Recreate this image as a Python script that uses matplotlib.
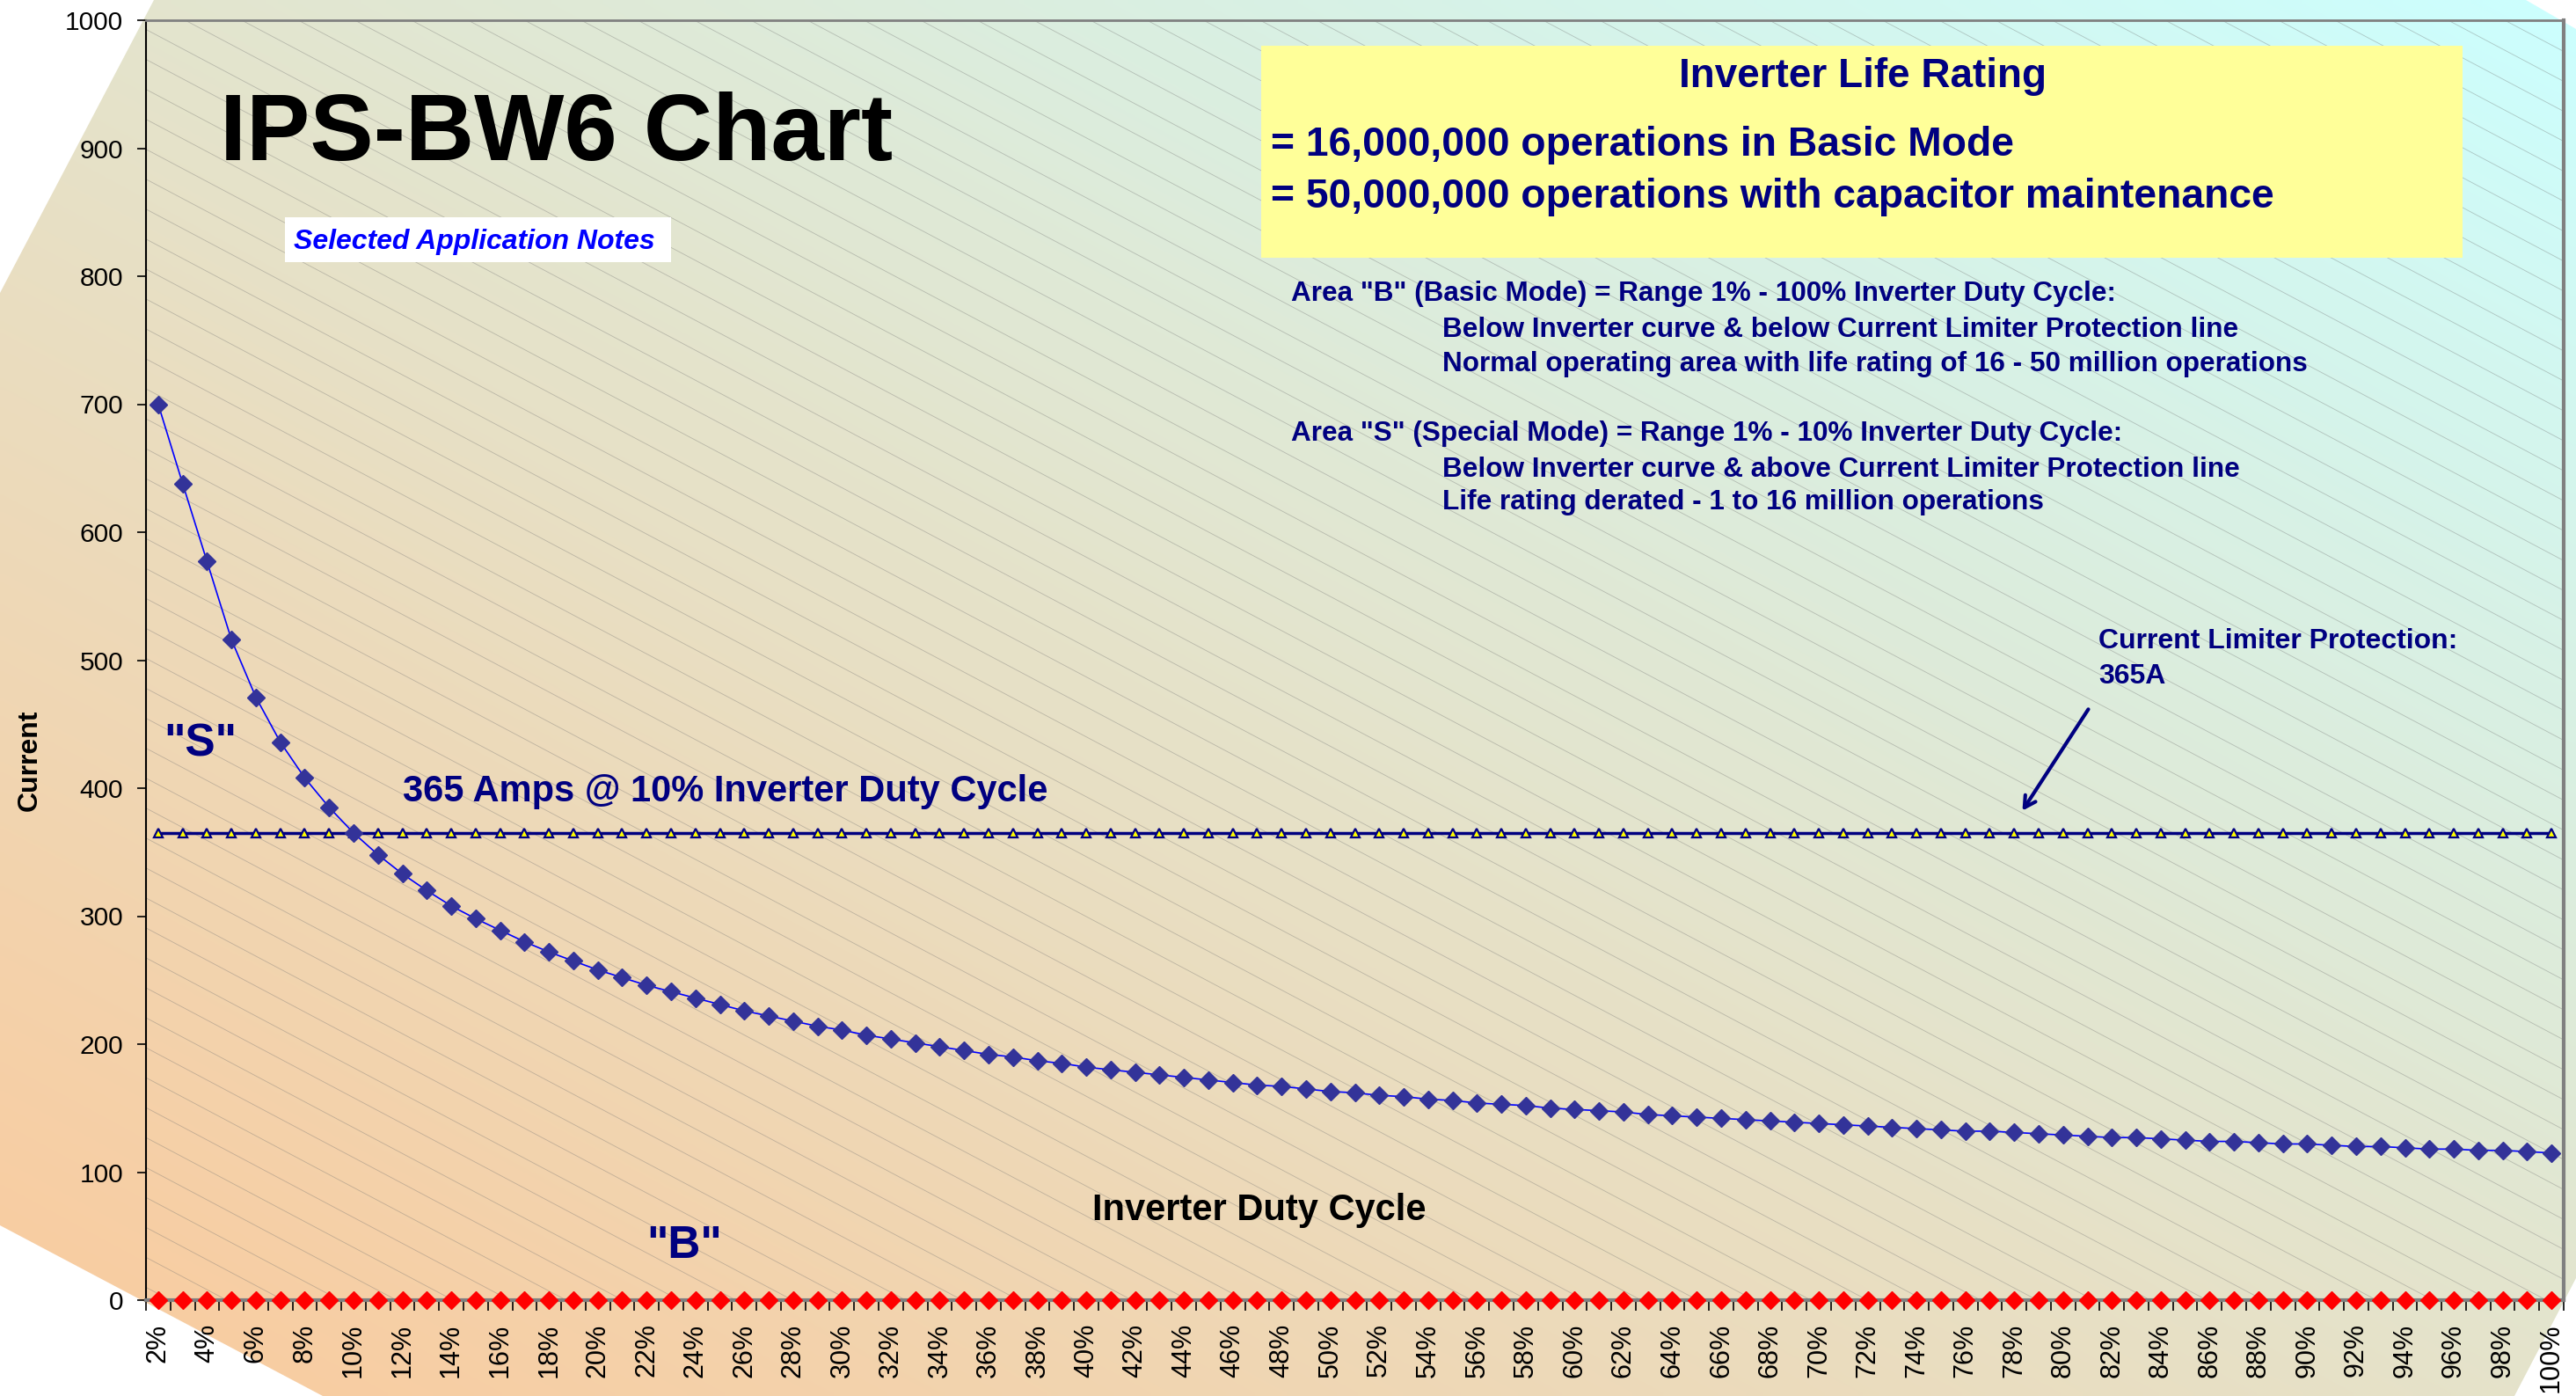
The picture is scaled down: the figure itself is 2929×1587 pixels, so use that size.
import numpy as np
import matplotlib
matplotlib.use('Agg')
import matplotlib.pyplot as plt
from matplotlib.patches import Polygon, Rectangle

plt.rcParams['font.family'] = ['Liberation Sans', 'DejaVu Sans']

# duty cycle categories (%) and the three series
duty_pct = list(range(2, 101))
inverter_amps = [700, 638, 577, 516, 471, 436, 408, 385, 365, 348,
                 333, 320, 308, 298, 289, 280, 272, 265, 258, 252,
                 246, 241, 236, 231, 226, 222, 218, 214, 211, 207,
                 204, 201, 198, 195, 192, 190, 187, 185, 182, 180,
                 178, 176, 174, 172, 170, 168, 167, 165, 163, 162,
                 160, 159, 157, 156, 154, 153, 152, 150, 149, 148,
                 147, 145, 144, 143, 142, 141, 140, 139, 138, 137,
                 136, 135, 134, 133, 132, 132, 131, 130, 129, 128,
                 127, 127, 126, 125, 124, 124, 123, 122, 122, 121,
                 120, 120, 119, 118, 118, 117, 117, 116, 115]
limiter_amps = [365] * len(duty_pct)
basic_zero = [0] * len(duty_pct)
y_ticks = list(range(0, 1001, 100))

W, H = 2929, 1587
NAVY = '#000080'


def fx(x):
    return x / W


def fy(y):
    return 1 - y / H


fig = plt.figure(figsize=(W / 100, H / 100), dpi=100)
fig.patch.set_facecolor('white')

# chart area background: diagonal orange -> cyan gradient in a tilted frame
bg = fig.add_axes([0, 0, 1, 1], zorder=-2)
bg.set_xlim(0, W)
bg.set_ylim(H, 0)
bg.axis('off')
gx, gy = np.meshgrid(np.linspace(0, 1, 400), np.linspace(0, 1, 220))
t = np.clip((gx + (1 - gy)) / 2, 0, 1) ** 1.1
c0 = np.array([250, 203, 158]) / 255
c1 = np.array([204, 255, 255]) / 255
img = c0 + (c1 - c0) * t[..., None]
im = bg.imshow(img, extent=[0, W, H, 0], aspect='auto', interpolation='bilinear')
frame = Polygon([(175, 0), (2872, 0), (2929, 33), (2929, 1453), (2859, 1587),
                 (367, 1587), (0, 1393), (0, 333)], closed=True,
                facecolor='none', edgecolor='none', transform=bg.transData)
bg.add_patch(frame)
im.set_clip_path(frame)

# plot area
left, right, top, bottom = 166, 2915, 23, 1478
ax = fig.add_axes([fx(left), fy(bottom), (right - left) / W, (bottom - top) / H])
ax.set_facecolor('none')

# diagonal pattern lines of the plot area
for b in np.arange(0.01, 2.0, 0.0234):
    ax.plot([0, 1], [b, b - 1.0], transform=ax.transAxes, color='#707070',
            lw=0.6, alpha=0.38, zorder=0.5)

x = np.arange(len(duty_pct))
ax.plot(x, limiter_amps, color=NAVY, lw=2.5, marker='^', ms=7,
        mfc='#ffff00', mec=NAVY, mew=1.6, zorder=3)
ax.plot(x, inverter_amps, color='#0000ff', lw=1.2, marker='D', ms=10.5,
        mfc='#333399', mec='#333399', zorder=4)
ax.plot(x, basic_zero, ls='none', marker='D', ms=10.5, color='#ff0000',
        clip_on=False, zorder=5)

ax.set_xlim(-0.5, len(duty_pct) - 0.5)
ax.set_ylim(0, 1000)
ax.set_yticks(y_ticks)
ax.tick_params(axis='y', direction='out', length=7.5, width=1.2, pad=11,
               labelsize=21.5, colors='black')
ax.set_xticks(x[::2])
ax.set_xticklabels([f'{d}%' for d in duty_pct[::2]], rotation=90)
ax.set_xticks(np.arange(-0.5, len(duty_pct), 1), minor=True)
ax.tick_params(axis='x', which='major', length=0, pad=19, labelsize=22)
ax.tick_params(axis='x', which='minor', direction='out', length=8.5, width=1.2)

ax.spines['left'].set_color('black')
ax.spines['left'].set_linewidth(1.5)
ax.spines['bottom'].set_color('#808080')
ax.spines['bottom'].set_linewidth(3)
ax.spines['top'].set_color('#808080')
ax.spines['top'].set_linewidth(2)
ax.spines['right'].set_color('#808080')
ax.spines['right'].set_linewidth(3)

fig.text(fx(34), fy(864), 'Current', rotation=90, ha='center', va='center',
         fontsize=23, fontweight='bold')

# title and boxes
fig.text(fx(250), fy(182), 'IPS-BW6 Chart', fontsize=78, fontweight='bold',
         va='baseline', ha='left')

fig.patches.append(Rectangle((fx(324), fy(298)), (763 - 324) / W, (298 - 247) / H,
                             transform=fig.transFigure, facecolor='white',
                             edgecolor='none', zorder=1))
fig.text(fx(334), fy(283), 'Selected Application Notes', fontsize=23,
         fontweight='bold', fontstyle='italic', color='#0000ff',
         va='baseline', ha='left')

fig.patches.append(Rectangle((fx(1434), fy(293)), (2800 - 1434) / W, (293 - 52) / H,
                             transform=fig.transFigure, facecolor='#ffff99',
                             edgecolor='none', zorder=1))
fig.text(fx(2118), fy(99), 'Inverter Life Rating', fontsize=33,
         fontweight='bold', color=NAVY, ha='center', va='baseline')
fig.text(fx(1445), fy(177), '= 16,000,000 operations in Basic Mode', fontsize=33.3,
         fontweight='bold', color=NAVY, ha='left', va='baseline')
fig.text(fx(1445), fy(236), '= 50,000,000 operations with capacitor maintenance',
         fontsize=33.3, fontweight='bold', color=NAVY, ha='left', va='baseline')

notes = [
    (1468, 342, 'Area "B" (Basic Mode) = Range 1% - 100% Inverter Duty Cycle:'),
    (1640, 383, 'Below Inverter curve & below Current Limiter Protection line'),
    (1640, 422, 'Normal operating area with life rating of 16 - 50 million operations'),
    (1468, 501, 'Area "S" (Special Mode) = Range 1% - 10% Inverter Duty Cycle:'),
    (1640, 542, 'Below Inverter curve & above Current Limiter Protection line'),
    (1640, 579, 'Life rating derated - 1 to 16 million operations'),
]
for nx_, ny_, s in notes:
    fig.text(fx(nx_), fy(ny_), s, fontsize=22.7, fontweight='bold', color=NAVY,
             ha='left', va='baseline')

fig.text(fx(2386), fy(737), 'Current Limiter Protection:', fontsize=23,
         fontweight='bold', color=NAVY, ha='left', va='baseline')
fig.text(fx(2386), fy(777), '365A', fontsize=23,
         fontweight='bold', color=NAVY, ha='left', va='baseline')
ax.annotate('', xy=(fx(2298), fy(924)), xycoords='figure fraction',
            xytext=(fx(2376), fy(804)), textcoords='figure fraction',
            arrowprops=dict(arrowstyle='->,head_length=0.9,head_width=0.5',
                            color=NAVY, lw=3), annotation_clip=False)

fig.text(fx(458), fy(911), '365 Amps @ 10% Inverter Duty Cycle', fontsize=30,
         fontweight='bold', color=NAVY, ha='left', va='baseline')
fig.text(fx(228), fy(859), '"S"', fontsize=37, fontweight='bold', color=NAVY,
         ha='center', va='baseline')
fig.text(fx(778), fy(1430), '"B"', fontsize=37, fontweight='bold', color=NAVY,
         ha='center', va='baseline')
fig.text(fx(1432), fy(1387), 'Inverter Duty Cycle', fontsize=30,
         fontweight='bold', color='black', ha='center', va='baseline')

fig.savefig('out.png', dpi=100, facecolor=fig.get_facecolor())
